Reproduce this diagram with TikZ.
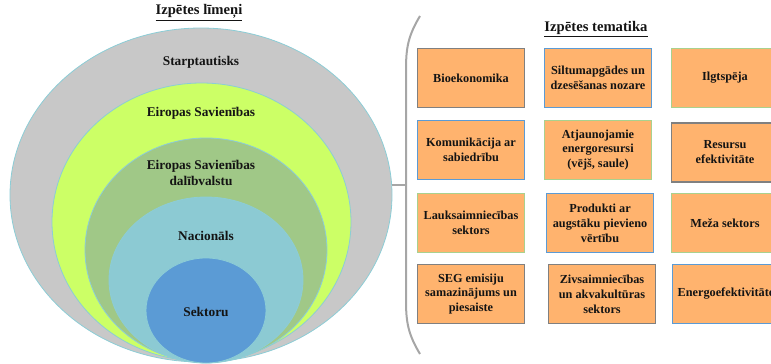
\documentclass[tikz,border=0pt]{standalone}
\usepackage{fontspec}
\setmainfont{Liberation Serif}
\usepackage{tikz}
\usetikzlibrary{positioning,shapes.geometric,calc}
\definecolor{rimteal}{RGB}{140,205,214}
\definecolor{lvlgray}{RGB}{200,200,200}
\definecolor{lvllime}{RGB}{204,255,102}
\definecolor{lvlgreen}{RGB}{160,200,135}
\definecolor{lvlaqua}{RGB}{140,202,211}
\definecolor{lvlblue}{RGB}{91,155,213}
\definecolor{topicfill}{RGB}{255,179,110}
\definecolor{edgegray}{RGB}{128,128,128}
\definecolor{edgeblue}{RGB}{91,155,213}
\definecolor{edgegreen}{RGB}{169,209,142}
\definecolor{linkgray}{RGB}{166,166,166}
\definecolor{ink}{RGB}{20,20,20}
\tikzset{
  lvl/.style={ellipse, draw=rimteal, line width=0.6pt, fill=#1, inner sep=0pt, outer sep=0pt},
  lvltext/.style={font=\fontsize{10}{12}\selectfont\bfseries, align=center, text=ink},
  topic/.style={draw=#1, line width=1.2pt, fill=topicfill, align=center, minimum width=80pt, minimum height=44pt, inner sep=1pt, text=ink, font=\fontsize{9.2}{11.2}\selectfont\bfseries},
  topic/.default={edgegray},
  heading/.style={font=\fontsize{11}{13}\selectfont\bfseries, text=ink},
  link/.style={draw=linkgray, line width=1.5pt}
}
\begin{document}
\begin{tikzpicture}[x=0.75pt, y=-0.75pt]
  \useasboundingbox (0,0) rectangle (771,364);
  \clip (0,0) rectangle (771,364);

  \node[heading] (lvlhead) at (199,13) {\underline{Izpētes līmeņi}};
  \node[lvl=lvlgray, minimum width=286.5pt, minimum height=250.5pt] (intl) at (201,195) {};
  \node[lvl=lvllime, minimum width=224.25pt, minimum height=208.5pt] (eu) at (201.5,222) {};
  \node[lvl=lvlgreen, minimum width=181.5pt, minimum height=168pt] (member) at (206,250) {};
  \node[lvl=lvlaqua, minimum width=145.5pt, minimum height=124.5pt] (natl) at (206,280) {};
  \node[lvl=lvlblue, minimum width=90pt, minimum height=78.75pt] (sect) at (206,310.5) {};
  \node[lvltext] (t-intl) at (201,62) {Starptautisks};
  \node[lvltext] (t-eu) at (201,113) {Eiropas Savienības};
  \node[lvltext] (t-member) at (201,173) {Eiropas Savienības\\dalībvalstu};
  \node[lvltext] (t-natl) at (206,236) {Nacionāls};
  \node[lvltext] (t-sect) at (206,312) {Sektoru};

  \coordinate (joint) at (406,185);
  \draw[link] (intl.east |- joint) -- (joint);
  \draw[link] (420,16) .. controls (408,36) and (406,48) .. (406,70) -- (joint) -- (406,300) .. controls (406,322) and (408,334) .. (420,354);

  \node[heading] (topichead) at (596,29) {\underline{Izpētes tematika}};
  \node[topic] (bio) at (471,78) {Bioekonomika};
  \node[topic=edgeblue] (heat) at (598,78) {Siltumapgādes un\\dzesēšanas nozare};
  \node[topic=edgegreen] (sust) at (725,78) {Ilgtspēja};
  \node[topic=edgeblue] (comm) at (471,150) {Komunikācija ar\\sabiedrību};
  \node[topic=edgegreen] (renew) at (598,150) {Atjaunojamie\\energoresursi\\(vējš, saule)};
  \node[topic] (resrc) at (725,152.5) {Resursu\\efektivitāte};
  \node[topic=edgegreen] (agri) at (471,223) {Lauksaimniecības\\sektors};
  \node[topic=edgeblue] (prod) at (600,223) {Produkti ar\\augstāku pievieno\\vērtību};
  \node[topic=edgegreen] (forest) at (725,223) {Meža sektors};
  \node[topic] (ghg) at (471,294) {SEG emisiju\\samazinājums un\\piesaiste};
  \node[topic] (fish) at (602,294) {Zivsaimniecības\\un akvakultūras\\sektors};
  \node[topic=edgeblue] (effic) at (726,294) {Energoefektivitāte};
\end{tikzpicture}
\end{document}
